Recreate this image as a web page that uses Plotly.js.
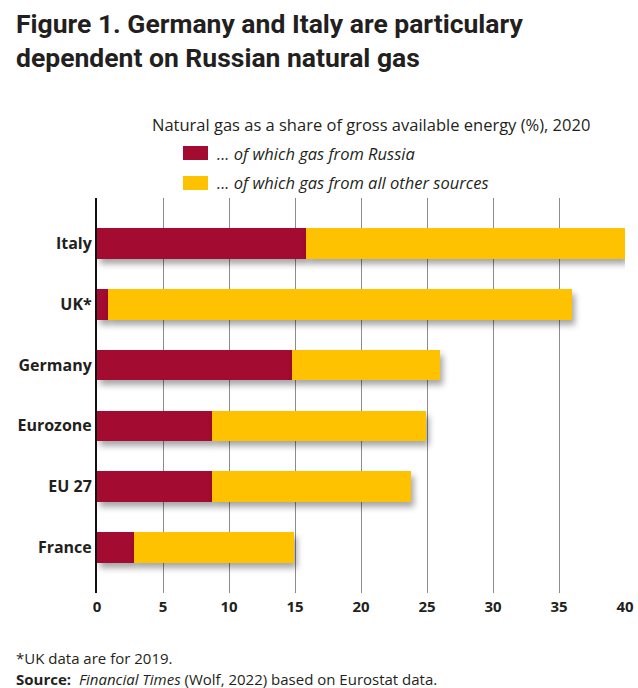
<!DOCTYPE html>
<html>
<head>
<meta charset="utf-8">
<script src="https://cdn.plot.ly/plotly-3.0.1.min.js"></script>
<style>
html,body{margin:0;padding:0;background:#fff;}
#chart{width:638px;height:688px;}
.trace.bars path{filter:drop-shadow(3px 5px 3px rgba(0,0,0,0.35));}
</style>
</head>
<body>
<div id="chart"></div>
<script>
const categories = ["Italy", "UK*", "Germany", "Eurozone", "EU 27", "France"];
const russiaShare = [15.8, 0.8, 14.8, 8.7, 8.7, 2.8];
const otherShare = [24.2, 35.2, 11.2, 16.2, 15.1, 12.1];
const seriesNames = ["... of which gas from Russia", "... of which gas from all other sources"];
const xTicks = [0, 5, 10, 15, 20, 25, 30, 35, 40];

const TITLE_FONT = "'Liberation Sans Narrow', 'Roboto', sans-serif";
const BODY = "'Open Sans', 'Noto Sans', sans-serif";
const INK = "#231f20";
const colors = ["#a30b30", "#ffc200"];

const traces = [
  {type: "bar", orientation: "h", y: categories, x: russiaShare, name: seriesNames[0],
   marker: {color: colors[0], line: {width: 0}}, width: 0.5, showlegend: false},
  {type: "bar", orientation: "h", y: categories, x: otherShare, name: seriesNames[1],
   marker: {color: colors[1], line: {width: 0}}, width: 0.5, showlegend: false}
];

// legend drawn as swatches + labels
const legendRows = [{top: 1.1316, bottom: 1.0962, mid: 1.1139}, {top: 1.0557, bottom: 1.0203, mid: 1.038}];
const shapes = legendRows.map((r, i) => ({
  type: "rect", xref: "paper", yref: "paper", x0: 0.1629, x1: 0.2102, y0: r.bottom, y1: r.top,
  fillcolor: colors[i], line: {width: 0}
}));
const legendLabels = legendRows.map((r, i) => ({
  text: "<i>" + seriesNames[i] + "</i>", xref: "paper", yref: "paper", x: 0.2235, xanchor: "left",
  y: r.mid, yanchor: "middle", showarrow: false, font: {family: BODY, size: 16.5, color: INK}
}));

const layout = {
  width: 638, height: 688,
  margin: {l: 97, r: 13, t: 198, b: 95},
  paper_bgcolor: "#fff", plot_bgcolor: "#fff",
  barmode: "stack",
  showlegend: false,
  xaxis: {range: [0, 40], tickvals: xTicks, ticktext: xTicks.map(String),
          showgrid: true, gridcolor: "#8c8c8c", gridwidth: 1, zeroline: false,
          showline: false, ticks: "", ticklabelstandoff: 3,
          tickfont: {family: BODY, size: 15, color: INK, weight: "bold"}, fixedrange: true},
  yaxis: {type: "category", categoryorder: "array", categoryarray: categories,
          range: [5.75, -0.75], showgrid: false, zeroline: false,
          showline: true, linecolor: "#111", linewidth: 2, ticks: "", ticklabelstandoff: 0,
          tickfont: {family: BODY, size: 16, color: INK, weight: "bold"}, fixedrange: true},
  shapes: shapes,
  annotations: [
    {text: "<b>Figure 1. Germany and Italy are particulary<br>dependent on Russian natural gas</b>",
     xref: "paper", yref: "paper", x: -0.157, xanchor: "left", align: "left",
     y: 1.487, yanchor: "top", showarrow: false,
     font: {family: TITLE_FONT, size: 26.5, color: INK}},
    {text: "Natural gas as a share of gross available energy (%), 2020", xref: "paper", yref: "paper",
     x: 0.519, y: 1.187, xanchor: "center", yanchor: "middle", showarrow: false,
     font: {family: BODY, size: 16.5, color: INK}},
    ...legendLabels,
    {text: "*UK data are for 2019.", xref: "paper", yref: "paper", x: -0.157, xanchor: "left",
     y: -0.165, yanchor: "middle", showarrow: false,
     font: {family: BODY, size: 15, color: INK}},
    {text: "<b>Source:</b>  <i>Financial Times</i> (Wolf, 2022) based on Eurostat data.", xref: "paper", yref: "paper",
     x: -0.157, xanchor: "left", y: -0.218, yanchor: "middle", showarrow: false,
     font: {family: BODY, size: 15, color: INK}}
  ]
};

Plotly.newPlot("chart", traces, layout, {displayModeBar: false, staticPlot: true});
</script>
</body>
</html>
